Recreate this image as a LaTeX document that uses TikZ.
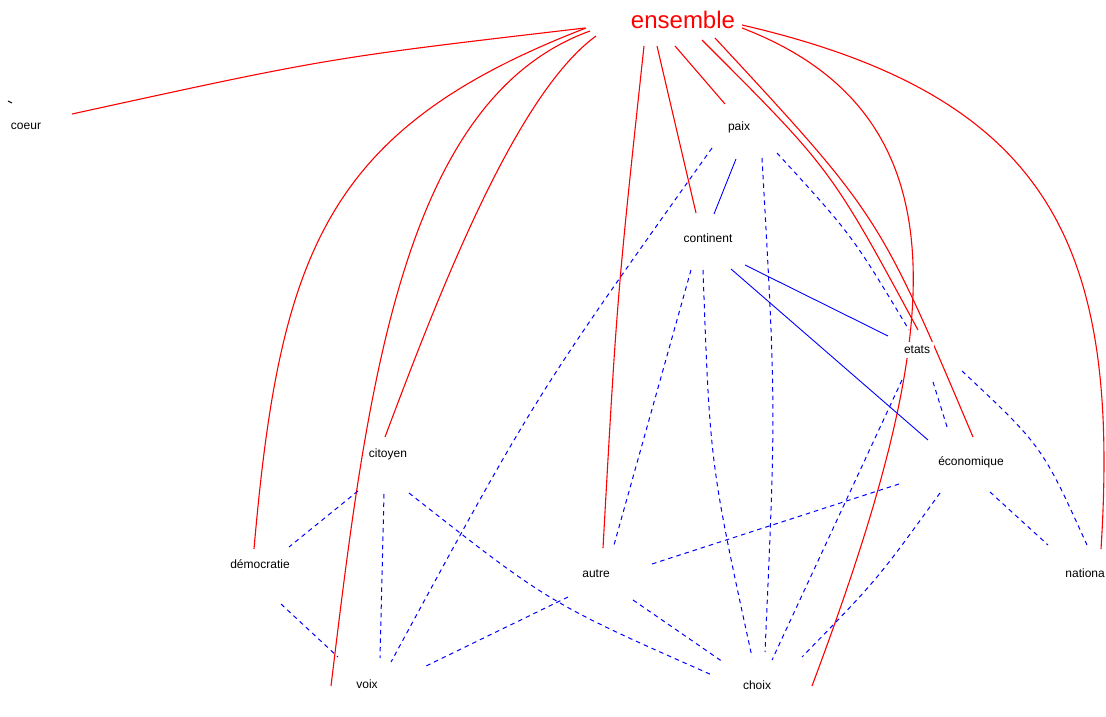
\documentclass[tikz,border=0pt]{standalone}
\usepackage{fontspec}
\setmainfont{Liberation Sans}
\usetikzlibrary{backgrounds}

\begin{document}
\begin{tikzpicture}[x=1pt,y=1pt,
    lbl/.style={anchor=base,fill=white,inner sep=4pt,font=\fontsize{12}{14}\selectfont},
    redlink/.style={draw=red,line width=1.1pt},
    bluelink/.style={draw=blue,line width=0.9pt},
    bluedash/.style={draw=blue,line width=1pt,dash pattern=on 4.5pt off 4pt}]
    \useasboundingbox (0,0) rectangle (1106,716);

    % Text Node
    \node [lbl,text=red,font=\fontsize{24}{28}\selectfont] (ensemble) at (683,687) {ensemble};
    % Text Node
    \node [lbl] (coeur) at (26,586) {coeur};
    % Text Node
    \node [lbl] (paix) at (739,585) {paix};
    % Text Node
    \node [lbl] (continent) at (708,473) {continent};
    % Text Node
    \node [lbl] (etats) at (917,362) {etats};
    % Text Node
    \node [lbl] (citoyen) at (388,259) {citoyen};
    % Text Node
    \node [lbl] (economique) at (971,251) {économique};
    % Text Node
    \node [lbl] (democratie) at (260,148) {démocratie};
    % Text Node
    \node [lbl] (autre) at (596,139) {autre};
    % Text Node
    \node [lbl,inner sep=1pt,anchor=base east] (nationa) at (1106,139) {nationa};
    % Text Node
    \node [lbl] (voix) at (367,28) {voix};
    % Text Node
    \node [lbl] (choix) at (757,27) {choix};

    %Straight Lines
    \draw [line width=1.1pt] (8,615) -- (12,613);

    \begin{scope}[on background layer]
    %Curve Lines (ensemble)
    \draw [redlink] ([shift={(-98,1)}]ensemble.base) .. controls (328,658) .. ([shift={(46,16)}]coeur.base);
    \draw [redlink] ([shift={(-97,1)}]ensemble.base) .. controls (327,588) and (280,466) .. ([shift={(-6,19)}]democratie.base);
    \draw [redlink] ([shift={(-93,-2)}]ensemble.base) .. controls (402,617) and (367,327) .. ([shift={(-36,2)}]voix.base);
    \draw [redlink] ([shift={(-87,-7)}]ensemble.base) .. controls (515,621) and (438,420) .. ([shift={(-3,20)}]citoyen.base);
    \draw [redlink] ([shift={(-39,-17)}]ensemble.base) .. controls (617,419) .. ([shift={(7,29)}]autre.base);
    \draw [redlink] ([shift={(-26,-17)}]ensemble.base) -- ([shift={(-12,30)}]continent.base);
    \draw [redlink] ([shift={(-8,-17)}]ensemble.base) -- ([shift={(-14,27)}]paix.base);
    \draw [redlink] ([shift={(19,-11)}]ensemble.base) .. controls (831,547) .. ([shift={(1,24)}]etats.base);
    \draw [redlink] ([shift={(32,-9)}]ensemble.base) .. controls (879,501) .. ([shift={(2,28)}]economique.base);
    \draw [redlink] ([shift={(59,1)}]ensemble.base) .. controls (982,596) and (935,359) .. ([shift={(55,3)}]choix.base);
    \draw [redlink] ([shift={(59,4)}]ensemble.base) .. controls (1054,619) and (1120,467) .. ([shift={(-5,28)}]nationa.base east);

    %Straight Lines (solid)
    \draw [bluelink] ([shift={(-3,-28)}]paix.base) -- ([shift={(6,29)}]continent.base);
    \draw [bluelink] ([shift={(37,-22)}]continent.base) -- ([shift={(-29,18)}]etats.base);
    \draw [bluelink] ([shift={(23,-26)}]continent.base) -- ([shift={(-43,25)}]economique.base);

    %Curve Lines (dashed)
    \draw [bluedash] ([shift={(-27,-17)}]paix.base) .. controls (536,321) .. ([shift={(24,26)}]voix.base);
    \draw [bluedash] ([shift={(23,-27)}]paix.base) .. controls (776,311) .. ([shift={(8,37)}]choix.base);
    \draw [bluedash] ([shift={(38,-22)}]paix.base) .. controls (852,481) .. ([shift={(-8,24)}]etats.base);
    \draw [bluedash] ([shift={(-17,-27)}]continent.base) -- ([shift={(18,32)}]autre.base);
    \draw [bluedash] ([shift={(-5,-27)}]continent.base) .. controls (710,252) .. ([shift={(-5,32)}]choix.base);
    \draw [bluedash] ([shift={(16,-28)}]etats.base) -- ([shift={(-23,35)}]economique.base);
    \draw [bluedash] ([shift={(45,-17)}]etats.base) .. controls (1042,270) .. ([shift={(-19,32)}]nationa.base east);
    \draw [bluedash] ([shift={(-15,-26)}]etats.base) -- ([shift={(15,29)}]choix.base);
    \draw [bluedash] ([shift={(19,-27)}]economique.base) -- ([shift={(-58,32)}]nationa.base east);
    \draw [bluedash] ([shift={(-31,-28)}]economique.base) .. controls (877,136) .. ([shift={(45,32)}]choix.base);
    \draw [bluedash] ([shift={(-72,-19)}]economique.base) -- ([shift={(56,13)}]autre.base);
    \draw [bluedash] ([shift={(-30,-34)}]citoyen.base) -- ([shift={(29,21)}]democratie.base);
    \draw [bluedash] ([shift={(-4,-37)}]citoyen.base) -- ([shift={(13,30)}]voix.base);
    \draw [bluedash] ([shift={(21,-36)}]citoyen.base) .. controls (549,113) .. ([shift={(-45,14)}]choix.base);
    \draw [bluedash] ([shift={(-28,-20)}]autre.base) -- ([shift={(57,21)}]voix.base);
    \draw [bluedash] ([shift={(37,-23)}]autre.base) -- ([shift={(-34,27)}]choix.base);
    \draw [bluedash] ([shift={(21,-36)}]democratie.base) -- ([shift={(-29,31)}]voix.base);
    \end{scope}

\end{tikzpicture}
\end{document}
